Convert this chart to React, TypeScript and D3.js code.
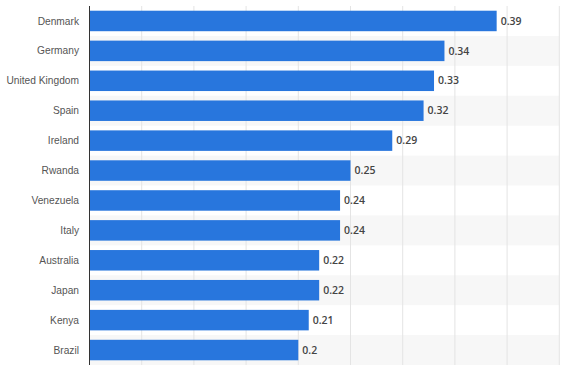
import React from "react";
import * as d3 from "d3";

const countries = ["Denmark","Germany","United Kingdom","Spain","Ireland","Rwanda","Venezuela","Italy","Australia","Japan","Kenya","Brazil"];
const values = [0.39,0.34,0.33,0.32,0.29,0.25,0.24,0.24,0.22,0.22,0.21,0.2];
const xTicks = [0,0.05,0.1,0.15,0.2,0.25,0.3,0.35,0.4,0.45];

export default function App() {
  const W = 570, H = 373;
  const left = 89.5, right = 559.3, top = 6, bottom = 365;
  const x = d3.scaleLinear().domain([0, 0.45]).range([left, right]);
  const y = d3.scaleBand<string>().domain(countries).range([top, bottom]).paddingInner(0).paddingOuter(0);
  const bh = 20.5;
  return (
    <svg width={W} height={H} style={{position:"absolute", left:0, top:0, fontFamily:"'Open Sans', Arial, sans-serif"}}>
      <rect x={0} y={0} width={W} height={H} fill="#fff" />
      {countries.map((c, i) => i % 2 === 1 ? (
        <rect key={"s"+c} x={left} y={y(c)!} width={right-left} height={y.bandwidth()} fill="#f7f7f7" />
      ) : null)}
      {xTicks.slice(1).map(t => (
        <line key={"g"+t} x1={x(t)} x2={x(t)} y1={top} y2={bottom} stroke="#e4e4e4" strokeWidth={1} />
      ))}
      {countries.map((c, i) => {
        const cy = y(c)! + y.bandwidth()/2;
        return (
          <g key={c}>
            <rect x={left} y={cy - bh/2} width={x(values[i]) - left} height={bh} fill="#2876dd" />
            <text x={79} y={cy} dy="0.35em" textAnchor="end" fontSize={10.2} fill="#555" fontFamily="'Liberation Sans', Arial, sans-serif">{c}</text>
            <text x={x(values[i]) + 4} y={cy} dy="0.35em" fontSize={10.5} fontWeight={600} fill="#444">{values[i]}</text>
          </g>
        );
      })}
      <line x1={left} x2={left} y1={top} y2={bottom} stroke="#333" strokeWidth={1} />
    </svg>
  );
}
